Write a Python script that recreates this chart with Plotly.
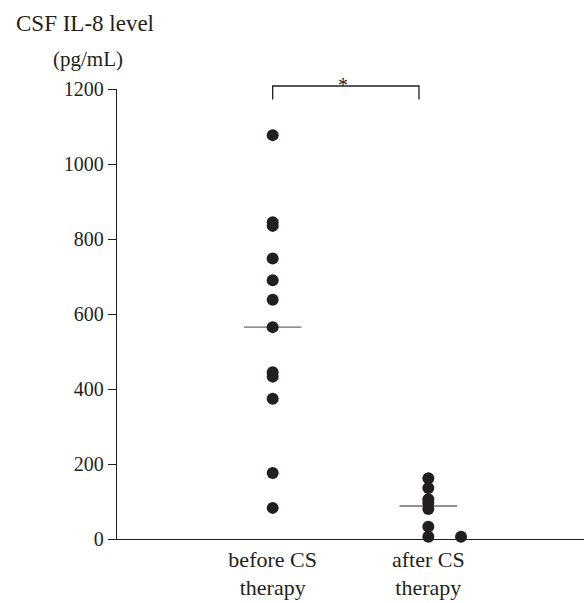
import plotly.graph_objects as go

groups = ["before CS<br>therapy", "after CS<br>therapy"]
group_pos = [1, 2]
before_vals = [1077, 845, 835, 748, 690, 638, 565, 445, 433, 374, 176, 83]
after_vals = [162, 136, 106, 96, 80, 33, 6, 6]
after_jitter = [0, 0, 0, 0, 0, 0, 0, 0.21]
medians = [565, 88]
y_ticks = [0, 200, 400, 600, 800, 1000, 1200]

INK = "#231f20"
FONT = "Liberation Serif"
Y_MAX = 1200

fig = go.Figure()
fig.add_trace(go.Scatter(
    x=[group_pos[0]] * len(before_vals), y=before_vals, mode="markers",
    marker=dict(size=12, color=INK), cliponaxis=False, showlegend=False))
fig.add_trace(go.Scatter(
    x=[group_pos[1] + j for j in after_jitter], y=after_vals, mode="markers",
    marker=dict(size=12, color=INK), cliponaxis=False, showlegend=False))

for p, m in zip(group_pos, medians):
    fig.add_shape(type="line", x0=p - 0.185, x1=p + 0.185, y0=m, y1=m,
                  line=dict(color="#6d6d6d", width=1.3), layer="below")

# significance bracket (paper y so it is not clipped above the axis)
yb0, yb1 = 1172 / Y_MAX, 1208 / Y_MAX
fig.add_shape(type="path", xref="x", yref="paper",
              path=f"M 1,{yb0} L 1,{yb1} L 1.94,{yb1} L 1.94,{yb0}",
              line=dict(color=INK, width=1.3))
fig.add_annotation(x=1.45, y=1246 / Y_MAX, xref="x", yref="paper", text="*",
                   showarrow=False, font=dict(family=FONT, size=20, color=INK))

fig.add_annotation(xref="paper", yref="paper", x=(14 - 117) / 467, y=1 + (89 - 23) / 456,
                   xanchor="left", yanchor="middle", text="CSF IL-8 level",
                   showarrow=False, font=dict(family=FONT, size=23, color=INK))
fig.add_annotation(xref="paper", yref="paper", x=(88 - 117) / 467, y=1 + (89 - 59) / 456,
                   xanchor="center", yanchor="middle", text="(pg/mL)",
                   showarrow=False, font=dict(family=FONT, size=21, color=INK))

fig.update_layout(
    width=587, height=603,
    margin=dict(l=117, r=3, t=89, b=58),
    paper_bgcolor="white", plot_bgcolor="white",
    font=dict(family=FONT, size=20, color=INK),
    xaxis=dict(range=[0, 3.0], tickvals=group_pos, ticktext=groups,
               showline=True, linecolor=INK, linewidth=1.3, ticks="",
               showgrid=False, zeroline=False, tickfont=dict(size=22)),
    yaxis=dict(range=[0, Y_MAX], tickvals=y_ticks, showline=True, linecolor=INK,
               linewidth=1.3, ticks="outside", ticklen=8, tickcolor=INK,
               showgrid=False, zeroline=False, tickfont=dict(size=20)),
)

fig.write_html("out.html", config={"displayModeBar": False},
               post_script="document.body.style.margin='0';")
